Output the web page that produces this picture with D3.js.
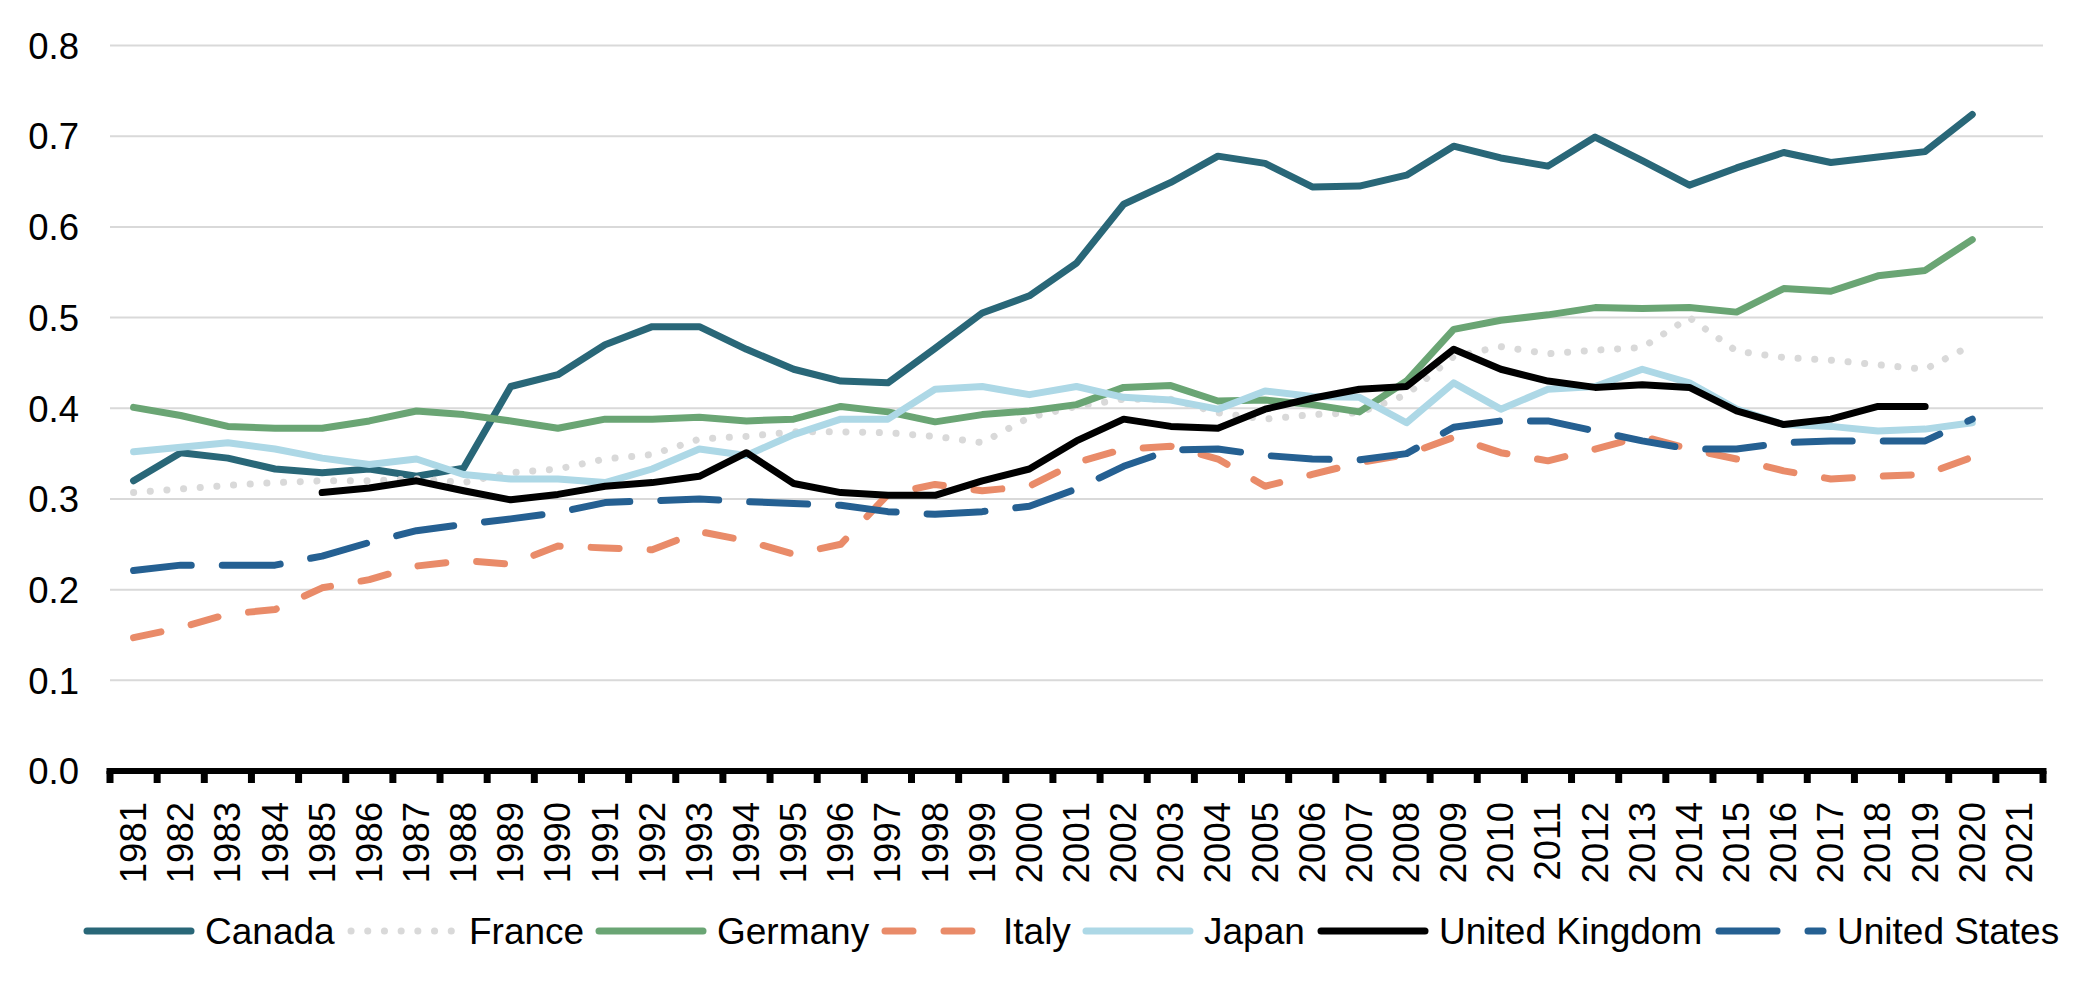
<!DOCTYPE html>
<html>
<head>
<meta charset="utf-8">
<script src="https://cdn.jsdelivr.net/npm/d3@7/dist/d3.min.js"></script>
<style>
html,body{margin:0;padding:0;background:#fff;}
svg{display:block;}
text{font-family:"Liberation Sans",Arial,sans-serif;fill:#000;}
</style>
</head>
<body>
<svg id="chart" width="2091" height="1004"></svg>
<script>
const years = d3.range(1981, 2022).map(String);
const yTicks = [0.0, 0.1, 0.2, 0.3, 0.4, 0.5, 0.6, 0.7, 0.8];

const canada  = [0.320,0.351,0.345,0.333,0.329,0.333,0.325,0.334,0.424,0.437,0.470,0.490,0.490,0.465,0.443,0.430,0.428,0.466,0.505,0.524,0.560,0.625,0.649,0.678,0.670,0.644,0.645,0.657,0.689,0.676,0.667,0.699,0.673,0.646,0.665,0.682,0.671,0.677,0.683,0.724,null];
const france  = [0.307,0.311,0.315,0.318,0.320,0.320,0.322,0.318,0.329,0.333,0.344,0.349,0.366,0.369,0.374,0.374,0.373,0.369,0.362,0.390,0.402,0.410,0.410,0.395,0.388,0.393,0.395,0.415,0.457,0.468,0.460,0.464,0.467,0.500,0.463,0.456,0.453,0.448,0.443,0.470,null];
const germany = [0.401,0.392,0.380,0.378,0.378,0.386,0.397,0.393,0.386,0.378,0.388,0.388,0.390,0.386,0.388,0.402,0.396,0.385,0.393,0.397,0.404,0.423,0.425,0.408,0.409,0.404,0.396,0.430,0.487,0.497,0.503,0.511,0.510,0.511,0.506,0.532,0.529,0.546,0.552,0.586,null];
const italy   = [0.147,0.158,0.173,0.178,0.202,0.211,0.226,0.232,0.228,0.248,0.246,0.244,0.264,0.254,0.239,0.250,0.305,0.316,0.309,0.314,0.340,0.355,0.358,0.344,0.314,0.327,0.340,0.349,0.368,0.351,0.342,0.355,0.369,0.355,0.344,0.331,0.322,0.325,0.327,0.346,null];
const japan   = [0.352,0.357,0.362,0.355,0.345,0.338,0.344,0.327,0.322,0.322,0.318,0.333,0.355,0.348,0.371,0.388,0.388,0.421,0.424,0.415,0.424,0.412,0.409,0.399,0.419,0.413,0.412,0.384,0.428,0.399,0.421,0.424,0.443,0.428,0.399,0.382,0.380,0.375,0.377,0.384,null];
const uk      = [null,null,null,null,0.307,0.312,0.320,0.309,0.299,0.305,0.314,0.318,0.325,0.351,0.317,0.307,0.304,0.304,0.320,0.333,0.364,0.388,0.380,0.378,0.399,0.411,0.421,0.424,0.465,0.443,0.430,0.423,0.426,0.423,0.397,0.382,0.388,0.402,0.402,null,null];
const us      = [0.221,0.227,0.227,0.227,0.237,0.252,0.265,0.272,0.278,0.285,0.296,0.298,0.300,0.297,0.295,0.293,0.286,0.283,0.286,0.292,0.311,0.336,0.354,0.355,0.348,0.344,0.343,0.350,0.379,0.386,0.386,0.375,0.364,0.355,0.355,0.362,0.364,0.364,0.364,0.388,null];

const seriesNames = ["Canada","France","Germany","Italy","Japan","United Kingdom","United States"];
const seriesValues = [canada, france, germany, italy, japan, uk, us];

const styles = {
  "Canada":        {color:"#296778", dash:null},
  "France":        {color:"#D9D9D9", dash:"0.1,16.6"},
  "Germany":       {color:"#6AA574", dash:null},
  "Italy":         {color:"#E98B69", dash:"28,31"},
  "Japan":         {color:"#ADD8E6", dash:null},
  "United Kingdom":{color:"#000000", dash:null},
  "United States": {color:"#256092", dash:"58,31"}
};

(function () {
const svg = d3.select("#chart");
const pLeft = 110, pRight = 2043, pTop = 45.5, pBottom = 771;

const x = d3.scaleBand().domain(years).range([pLeft, pRight]).padding(0);
const y = d3.scaleLinear().domain([0, 0.8]).range([pBottom, pTop]);

// gridlines
svg.append("g").selectAll("line")
  .data(yTicks.filter(t => t > 0))
  .join("line")
  .attr("x1", pLeft).attr("x2", pRight)
  .attr("y1", d => y(d)).attr("y2", d => y(d))
  .attr("stroke", "#D9D9D9").attr("stroke-width", 2);

// y labels
const yAxis = d3.axisLeft(y).tickValues(yTicks).tickFormat(d3.format(".1f")).tickSize(0).tickPadding(0);
const yg = svg.append("g").attr("transform", `translate(79,0)`).call(yAxis);
yg.select(".domain").remove();
yg.selectAll("text").attr("font-size", 36.5).attr("font-family", '"Liberation Sans",Arial,sans-serif').attr("fill","#000").attr("dy","0.35em");

// lines
const line = d3.line()
  .defined(d => d != null)
  .x((d, i) => x(years[i]) + x.bandwidth() / 2)
  .y(d => y(d));

seriesNames.forEach((name, k) => {
  const st = styles[name];
  const p = svg.append("path")
    .attr("d", line(seriesValues[k]))
    .attr("fill", "none")
    .attr("stroke", st.color)
    .attr("stroke-width", 7)
    .attr("stroke-linejoin", "round")
    .attr("stroke-linecap", "round");
  if (st.dash) p.attr("stroke-dasharray", st.dash);
});

// x axis
const boundaries = years.map(yv => x(yv)).concat([pRight]);
svg.append("g").selectAll("line")
  .data(boundaries)
  .join("line")
  .attr("x1", d => d).attr("x2", d => d)
  .attr("y1", pBottom).attr("y2", pBottom + 12)
  .attr("stroke", "#000").attr("stroke-width", 7);
svg.append("line")
  .attr("x1", pLeft - 3.5).attr("x2", pRight + 3.5)
  .attr("y1", pBottom).attr("y2", pBottom)
  .attr("stroke", "#000").attr("stroke-width", 6);

svg.append("g").selectAll("text")
  .data(years)
  .join("text")
  .attr("transform", d => `translate(${x(d) + x.bandwidth() / 2},802) rotate(-90)`)
  .attr("text-anchor", "end")
  .attr("dominant-baseline", "central")
  .attr("font-size", 36.5)
  .text(d => d);

// legend
const legendStarts = [83, 347, 595, 881, 1082, 1317, 1715];
const lg = svg.append("g");
const ly = 931;
seriesNames.forEach((name, k) => {
  const st = styles[name];
  const lx = legendStarts[k];
  const s = lg.append("line")
    .attr("x1", lx + 4).attr("x2", lx + 108)
    .attr("y1", ly).attr("y2", ly)
    .attr("stroke", st.color).attr("stroke-width", 7)
    .attr("stroke-linecap", "round");
  if (st.dash) s.attr("stroke-dasharray", st.dash);
  lg.append("text")
    .attr("x", lx + 122).attr("y", ly)
    .attr("dominant-baseline", "central")
    .attr("font-size", 37)
    .text(name);
});
})();
</script>
</body>
</html>
